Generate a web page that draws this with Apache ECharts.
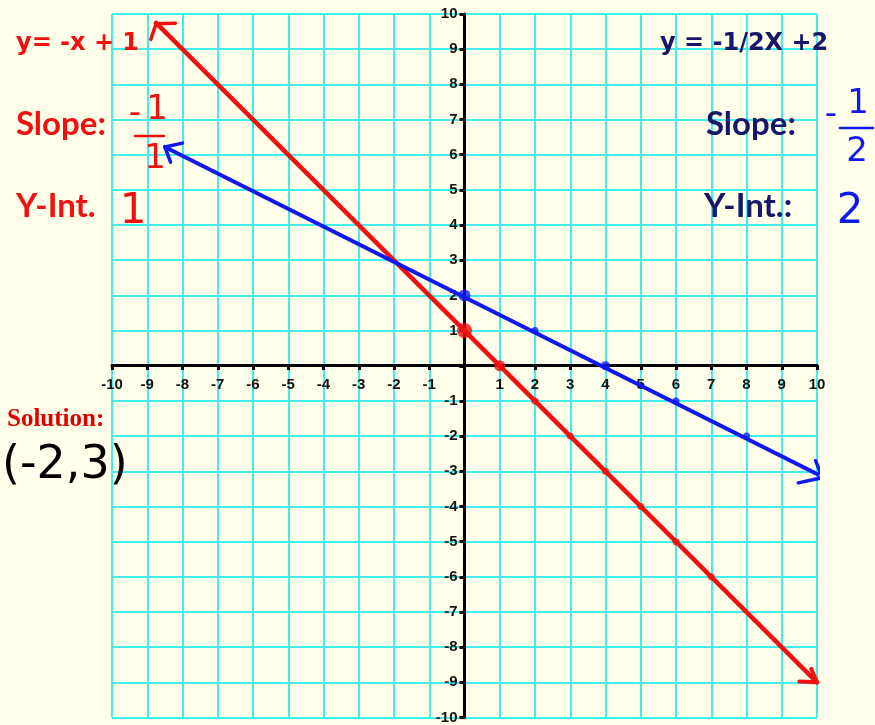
<!DOCTYPE html>
<html>
<head>
<meta charset="utf-8">
<script src="https://cdn.jsdelivr.net/npm/echarts@6/dist/echarts.min.js"></script>
<style>
  html, body { margin: 0; padding: 0; background: #FFFFEA; }
  #chart { width: 875px; height: 725px; }
</style>
</head>
<body>
<div id="chart"></div>
<script>
// y = -x + 1 (red) and y = -1/2 x + 2 (blue)
const redLine = [[-8.75, 9.75], [10, -9]];
const redArrowStart = [[-8.9, 9.28], [-8.75, 9.72], [-8.2, 9.74]];
const redArrowEnd = [[9.5, -8.98], [10, -9], [9.84, -8.62]];
const redPoints = [[0, 1], [1, 0], [2, -1], [3, -2], [4, -3], [5, -4], [6, -5], [7, -6]];

const blueLine = [[-8.5, 6.22], [10.15, -3.15]];
const blueArrowStart = [[-8.0, 6.33], [-8.5, 6.22], [-8.34, 5.79]];
const blueArrowEnd = [[9.47, -3.33], [10.15, -3.18], [9.96, -2.7]];
const bluePoints = [[0, 2], [2, 1], [4, 0], [6, -1], [8, -2]];

const RED = '#F01010';
const BLUE = '#1018F0';
const NAVY = '#16166A';

const GRID_W = 705, GRID_H = 705;

const chart = echarts.init(document.getElementById('chart'));

// axes are pulled into the middle of the grid with a negative offset
const axisCommon = {
  type: 'value', min: -10, max: 10, interval: 1,
  axisLine: { onZero: false, lineStyle: { color: '#000', width: 3 } },
  axisTick: { length: 5, lineStyle: { color: '#000', width: 3 } },
  axisLabel: {
    formatter: v => (v === 0 ? '' : String(v)),
    color: '#111', fontWeight: 'bold', fontSize: 15, fontFamily: 'Liberation Sans, Arial'
  },
  splitLine: { lineStyle: { color: '#40EEEE', width: 2 } }
};

function lineSeries(data, color, width) {
  return { type: 'line', data, showSymbol: false, silent: true, z: 3,
    lineStyle: { color, width, cap: 'round', join: 'round' } };
}

const txt = (text, x, y, font, fill, align) => ({
  type: 'text', x, y, z: 10,
  style: { text, font, fill, textAlign: align || 'left', textVerticalAlign: 'middle' }
});
const bar = (x1, x2, y, color) => ({
  type: 'line', z: 10, shape: { x1, y1: y, x2, y2: y },
  style: { stroke: color, lineWidth: 2.5, lineCap: 'round' }
});

const eqFont = 'bold 24px "DejaVu Sans"';
const lblFont = 'bold 33px Lato, "DejaVu Sans"';
const hand = 'normal 34px "DejaVu Sans"';

chart.setOption({
  backgroundColor: '#FFFFEA',
  animation: false,
  grid: { left: 112, top: 14, width: GRID_W, height: GRID_H },
  xAxis: Object.assign({}, axisCommon, {
    position: 'bottom', offset: -GRID_H / 2,
    axisLabel: Object.assign({}, axisCommon.axisLabel, { margin: 12 })
  }),
  yAxis: Object.assign({}, axisCommon, {
    position: 'left', offset: -GRID_W / 2,
    axisLabel: Object.assign({}, axisCommon.axisLabel, { margin: 7 })
  }),
  series: [
    lineSeries(redLine, RED, 4.5),
    lineSeries(redArrowStart, RED, 3.5),
    lineSeries(redArrowEnd, RED, 4),
    lineSeries(blueLine, BLUE, 4),
    lineSeries(blueArrowStart, BLUE, 3.5),
    lineSeries(blueArrowEnd, BLUE, 3.5),
    { type: 'scatter', data: redPoints, z: 4, silent: true,
      symbolSize: (v, p) => (p.dataIndex === 0 ? 15 : p.dataIndex === 1 ? 11 : 7),
      itemStyle: { color: RED } },
    { type: 'scatter', data: bluePoints, z: 5, silent: true,
      symbolSize: (v, p) => (p.dataIndex === 0 ? 12 : p.dataIndex === 2 ? 9 : 7),
      itemStyle: { color: BLUE } }
  ],
  graphic: [
    txt('y= -x + 1', 16, 44, eqFont, RED),
    txt('Slope:', 16, 124, lblFont, RED),
    txt('Y-Int.', 16, 206, lblFont, RED),
    txt('y = -1/2X +2', 660, 44, eqFont, NAVY),
    txt('Slope:', 706, 124, lblFont, NAVY),
    txt('Y-Int.:', 704, 206, lblFont, NAVY),
    txt('Solution:', 7, 420, 'bold 25px "Liberation Serif", "Times New Roman"', '#E00000'),
    txt('(-2,3)', 2, 466, 'normal 46px "DejaVu Sans"', '#000'),
    // handwritten slope / intercept of the red line
    txt('-', 135, 114, hand, RED, 'center'),
    txt('1', 157, 110, hand, RED, 'center'),
    bar(135, 164, 136, RED),
    txt('1', 155, 159, hand, RED, 'center'),
    txt('1', 133, 212, 'normal 42px "DejaVu Sans"', RED, 'center'),
    // handwritten slope / intercept of the blue line
    txt('-', 831, 115, hand, BLUE, 'center'),
    txt('1', 858, 104, hand, BLUE, 'center'),
    bar(840, 873, 128, BLUE),
    txt('2', 857, 152, hand, BLUE, 'center'),
    txt('2', 850, 212, 'normal 42px "DejaVu Sans"', BLUE, 'center')
  ]
});
</script>
</body>
</html>
